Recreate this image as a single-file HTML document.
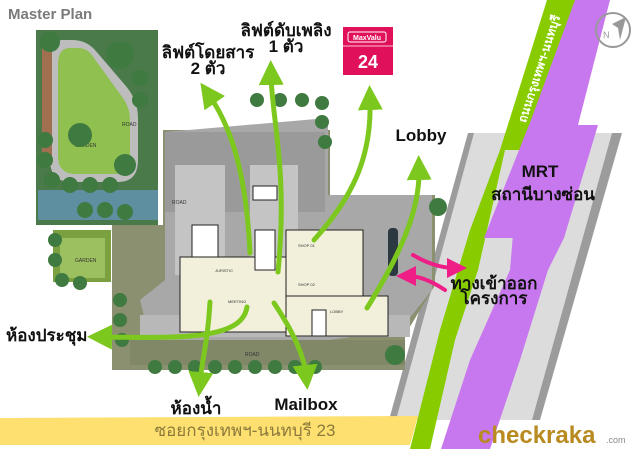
<!DOCTYPE html>
<html><head><meta charset="utf-8"><style>
html,body{margin:0;padding:0;background:#fff;}
svg{display:block;}
text{font-family:"Liberation Sans","Noto Sans CJK SC",sans-serif;}
.lb{font-weight:bold;font-size:17px;fill:#111;}
</style></head><body>
<svg width="640" height="449" viewBox="0 0 640 449" xmlns="http://www.w3.org/2000/svg">
<defs>
<marker id="ah" markerWidth="5" markerHeight="5" refX="2" refY="2.5" orient="auto" markerUnits="strokeWidth"><path d="M0,0 L5,2.5 L0,5 Z" fill="#7dc81e"/></marker>
<marker id="ph" markerWidth="5" markerHeight="5" refX="2" refY="2.5" orient="auto" markerUnits="strokeWidth"><path d="M0,0 L5,2.5 L0,5 Z" fill="#ee1e86"/></marker>
</defs>
<rect width="640" height="449" fill="#fff"/>

<!-- right road bands -->
<polygon points="468,133 622,133 540,420 389,420" fill="#9c9c9c"/>
<polygon points="474,133 612,133 532,420 396,420" fill="#dcdcdc"/>
<polygon points="547,0 571,0 520,150 505,150 478,270 455,340 430,449 410,449 440,330 470,230 500,150 520,100" fill="#88cc00"/>
<polygon points="571,0 610,0 578,125 564,238 548,270 520,360 490,449 441,449 470,360 510,270 520,150 540,90" fill="#c878ee"/>
<polygon points="547,0 575,0 520,150 500,150" fill="#88cc00"/>
<polygon points="529,125 598,125 564,238 484,238" fill="#c878ee"/>
<text x="543" y="70" transform="rotate(-72 543 70)" font-size="12" font-weight="bold" fill="#fff" text-anchor="middle">ถนนกรุงเทพฯ-นนทบุรี</text>

<!-- garden block -->
<rect x="36" y="30" width="122" height="195" fill="#4a7a4a"/>
<rect x="38" y="190" width="120" height="30" fill="#5e8fa0"/>
<path d="M62,40 Q50,40 50,60 L50,160 Q50,182 72,182 L118,182 Q138,182 138,160 L138,118 Q138,100 125,85 L95,50 Q86,40 72,40 Z" fill="#bdbdbd"/>
<path d="M70,48 Q58,48 58,64 L58,156 Q58,174 76,174 L114,174 Q130,174 130,156 L130,120 Q130,106 120,94 L94,58 Q88,48 78,48 Z" fill="#8fc050"/>
<rect x="42" y="45" width="10" height="120" fill="#a07050"/>
<rect x="53" y="230" width="58" height="52" fill="#7aa040"/>
<rect x="60" y="238" width="45" height="40" fill="#9cc060"/>
<text x="75" y="147" font-size="5" fill="#333">GARDEN</text>
<text x="75" y="262" font-size="5" fill="#333">GARDEN</text>

<!-- main site -->
<polygon points="112,225 163,225 163,130 330,130 330,195 435,195 435,285 405,335 405,370 112,370" fill="#8a9070"/>
<polygon points="165,132 328,118 328,195 432,195 432,290 400,330 330,340 150,340 140,300 165,280" fill="#a8a8a8"/>
<rect x="165" y="132" width="160" height="80" fill="#9a9a9a"/>
<rect x="175" y="165" width="50" height="110" fill="#c4c4c4"/>
<rect x="250" y="165" width="48" height="110" fill="#c4c4c4"/>
<rect x="140" y="315" width="270" height="22" fill="#b8b8b8"/>
<rect x="130" y="340" width="275" height="25" fill="#808868"/>
<text x="245" y="356" font-size="5" fill="#333">ROAD</text>
<text x="172" y="204" font-size="5" fill="#333">ROAD</text>
<text x="122" y="126" font-size="5" fill="#333">ROAD</text>
<!-- building -->
<rect x="180" y="257" width="110" height="75" fill="#f2efda" stroke="#222" stroke-width="1"/>
<rect x="286" y="230" width="77" height="70" fill="#f2efda" stroke="#222" stroke-width="1"/>
<rect x="286" y="296" width="102" height="40" fill="#f2efda" stroke="#222" stroke-width="1"/>
<rect x="192" y="225" width="26" height="32" fill="#fff" stroke="#222"/>
<rect x="255" y="230" width="20" height="40" fill="#fff" stroke="#222"/>
<rect x="312" y="310" width="14" height="26" fill="#fff" stroke="#222"/>
<rect x="253" y="186" width="24" height="14" fill="#fff" stroke="#222"/>
<text x="298" y="247" font-size="4" fill="#333">SHOP 01</text>
<text x="298" y="286" font-size="4" fill="#333">SHOP 02</text>
<text x="330" y="313" font-size="4" fill="#333">LOBBY</text>
<text x="215" y="272" font-size="4" fill="#333">JURISTIC</text>
<text x="228" y="303" font-size="4" fill="#333">MEETING</text>
<rect x="388" y="228" width="10" height="48" rx="4" fill="#2a3a40"/>
<!-- trees -->
<g fill="#3f7a40">
<circle cx="50" cy="42" r="10"/><circle cx="120" cy="55" r="14"/><circle cx="80" cy="135" r="12"/><circle cx="125" cy="165" r="11"/>
<circle cx="45" cy="140" r="8"/><circle cx="45" cy="160" r="8"/><circle cx="52" cy="180" r="8"/><circle cx="70" cy="185" r="8"/><circle cx="90" cy="185" r="8"/><circle cx="110" cy="185" r="8"/><circle cx="140" cy="100" r="8"/><circle cx="140" cy="78" r="8"/>
<circle cx="85" cy="210" r="8"/><circle cx="105" cy="210" r="8"/><circle cx="125" cy="212" r="8"/>
<circle cx="55" cy="240" r="7"/><circle cx="55" cy="260" r="7"/><circle cx="62" cy="280" r="7"/><circle cx="80" cy="283" r="7"/>
<circle cx="257" cy="100" r="7"/><circle cx="280" cy="100" r="7"/><circle cx="302" cy="100" r="7"/><circle cx="322" cy="103" r="7"/><circle cx="322" cy="122" r="7"/><circle cx="325" cy="142" r="7"/>
<circle cx="120" cy="300" r="7"/><circle cx="120" cy="320" r="7"/><circle cx="122" cy="340" r="7"/>
<circle cx="155" cy="367" r="7"/><circle cx="175" cy="367" r="7"/><circle cx="195" cy="367" r="7"/><circle cx="215" cy="367" r="7"/><circle cx="235" cy="367" r="7"/><circle cx="255" cy="367" r="7"/><circle cx="275" cy="367" r="7"/><circle cx="295" cy="367" r="7"/><circle cx="315" cy="367" r="7"/>
<circle cx="395" cy="355" r="10"/><circle cx="438" cy="207" r="9"/>
</g>

<!-- MaxValu -->
<rect x="343" y="27" width="50" height="48" fill="#e0105a"/>
<rect x="348" y="32" width="38" height="10" rx="2" fill="none" stroke="#fff" stroke-width="1"/>
<text x="367" y="40" font-size="7" font-weight="bold" fill="#fff" text-anchor="middle">MaxValu</text>
<line x1="343" y1="46" x2="393" y2="46" stroke="#fff" stroke-width="0.7"/>
<text x="368" y="68" font-size="18" font-weight="bold" fill="#fff" text-anchor="middle">24</text>

<!-- green arrows -->
<g fill="none" stroke="#7dc81e" stroke-width="5" stroke-linecap="round">
<path d="M250,253 C246,170 230,125 209,95" marker-end="url(#ah)"/>
<path d="M278,272 C288,170 272,120 271,75" marker-end="url(#ah)"/>
<path d="M314,240 C350,200 372,160 370,100" marker-end="url(#ah)"/>
<path d="M367,308 C400,255 420,210 419,170" marker-end="url(#ah)"/>
<path d="M247,307 C242,340 180,338 102,337" marker-end="url(#ah)"/>
<path d="M210,302 C208,340 202,360 200,382" marker-end="url(#ah)"/>
<path d="M274,303 C292,330 304,355 306,375" marker-end="url(#ah)"/>
</g>
<g fill="none" stroke="#ee1e86" stroke-width="4" stroke-linecap="round">
<path d="M413,255 C430,265 445,268 455,268" marker-end="url(#ph)"/>
<path d="M445,290 C430,280 418,276 408,276" marker-end="url(#ph)"/>
</g>

<!-- yellow bar -->
<polygon points="0,418 418,416 410,445 0,445" fill="#fde070"/>
<text x="245" y="436" font-size="17" fill="#8c7a3c" text-anchor="middle">ซอยกรุงเทพฯ-นนทบุรี 23</text>

<!-- labels -->
<text x="8" y="19" font-size="15" font-weight="bold" fill="#7a7a7a">Master Plan</text>
<text class="lb" x="286" y="36" text-anchor="middle">ลิฟต์ดับเพลิง</text>
<text class="lb" x="286" y="52" text-anchor="middle">1 ตัว</text>
<text class="lb" x="208" y="58" text-anchor="middle">ลิฟต์โดยสาร</text>
<text class="lb" x="208" y="74" text-anchor="middle">2 ตัว</text>
<text class="lb" x="421" y="141" text-anchor="middle">Lobby</text>
<text class="lb" x="540" y="177" text-anchor="middle">MRT</text>
<text class="lb" x="543" y="200" text-anchor="middle">สถานีบางซ่อน</text>
<text class="lb" x="494" y="289" text-anchor="middle">ทางเข้าออก</text>
<text class="lb" x="494" y="304" text-anchor="middle">โครงการ</text>
<text class="lb" x="6" y="341">ห้องประชุม</text>
<text class="lb" x="196" y="414" text-anchor="middle">ห้องน้ำ</text>
<text class="lb" x="306" y="410" text-anchor="middle">Mailbox</text>

<!-- compass -->
<circle cx="613" cy="30" r="17" fill="none" stroke="#999" stroke-width="2"/>
<polygon points="626,17 612,24 618,28 620,40" fill="#999"/>
<text x="603" y="38" font-size="9" fill="#999">N</text>

<!-- checkraka -->
<text x="478" y="443" font-size="24" font-weight="bold" fill="#b88a20">checkraka</text>
<text x="606" y="443" font-size="9" fill="#888">.com</text>
</svg>
</body></html>
